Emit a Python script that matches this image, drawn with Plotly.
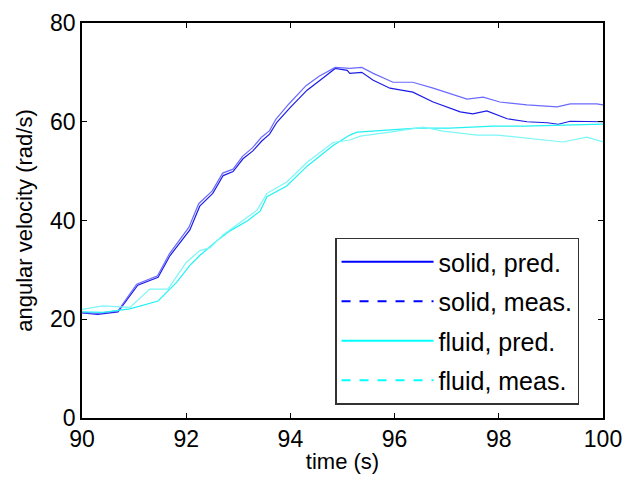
import plotly.graph_objects as go

# solid, predicted
t_sp = [90.0, 90.3, 90.69, 91.07, 91.46, 91.69, 92.07, 92.26, 92.51, 92.71, 92.9, 93.09, 93.28, 93.45, 93.6,
        93.74, 93.99, 94.32, 94.57, 94.86, 95.09, 95.14, 95.37, 95.59, 95.91, 96.35, 96.74, 97.26, 97.5, 97.77,
        98.16, 98.54, 98.93, 99.14, 99.37, 99.62, 100.0]
w_sp = [21.3, 21.0, 21.5, 26.9, 28.5, 32.9, 38.1, 42.9, 45.5, 49.1, 49.9, 52.5, 54.1, 56.1, 57.5,
        59.9, 62.8, 66.4, 68.4, 70.8, 70.4, 69.8, 70.0, 68.4, 66.8, 66.0, 64.0, 62.0, 61.6, 62.2,
        60.6, 60.0, 59.8, 59.5, 60.1, 60.0, 60.0]

# solid, measured
t_sm = [90.0, 90.3, 90.69, 91.05, 91.45, 91.68, 92.05, 92.24, 92.5, 92.7, 92.9, 93.08, 93.27, 93.44, 93.6,
        93.72, 93.97, 94.3, 94.55, 94.86, 95.14, 95.37, 95.59, 95.97, 96.35, 96.74, 97.39, 97.7, 98.02,
        98.54, 99.12, 99.37, 99.88, 100.0]
w_sm = [21.4, 21.2, 21.7, 27.1, 28.8, 33.3, 38.6, 43.4, 46.0, 49.6, 50.4, 53.0, 54.7, 56.8, 58.2,
        60.5, 63.6, 67.3, 69.2, 71.0, 70.8, 71.0, 69.8, 68.0, 68.0, 66.8, 64.6, 65.0, 64.0,
        63.4, 63.0, 63.6, 63.6, 63.4]

# fluid, predicted
t_fp = [90.0, 90.4, 90.92, 91.46, 91.82, 92.07, 92.26, 92.59, 92.84, 93.17, 93.42, 93.55, 93.93, 94.32,
        94.82, 95.14, 95.28, 95.78, 96.43, 97.06, 97.89, 98.5, 99.37, 100.0]
w_fp = [21.5, 21.4, 22.1, 23.7, 27.5, 30.9, 32.9, 35.9, 37.9, 39.9, 41.9, 44.8, 47.0, 51.0,
        55.2, 57.3, 57.9, 58.3, 58.7, 58.7, 59.1, 59.1, 59.3, 59.5]

# fluid, measured
t_fm = [90.0, 90.4, 90.92, 91.3, 91.65, 92.0, 92.26, 92.46, 92.71, 92.97, 93.17, 93.36, 93.55, 93.93,
        94.32, 94.82, 95.14, 95.34, 95.91, 96.55, 96.93, 97.58, 97.97, 98.73, 99.23, 99.69, 100.0]
w_fm = [22.0, 22.7, 22.4, 26.1, 26.1, 31.5, 33.9, 34.5, 37.1, 39.1, 40.5, 42.1, 45.5, 47.8,
        51.8, 55.8, 56.3, 57.1, 57.9, 58.9, 58.1, 57.3, 57.3, 56.5, 55.9, 56.9, 55.9]

names = ["solid, pred.", "solid, meas.", "fluid, pred.", "fluid, meas."]
series = [(t_sp, w_sp), (t_sm, w_sm), (t_fp, w_fp), (t_fm, w_fm)]
colors = ["#1c1ce8", "#6a6aff", "#22f2f2", "#7cf6f6"]
legend_colors = ["#0000ff", "#0000ff", "#00ffff", "#00ffff"]
dashes = ["solid", "dash", "solid", "dash"]

fig = go.Figure()
for i, (t, w) in enumerate(series):
    fig.add_trace(go.Scatter(x=t, y=w, mode='lines', showlegend=False,
                             line=dict(color=colors[i], width=1.2)))
# legend entries
for i in range(4):
    fig.add_trace(go.Scatter(x=[None], y=[None], mode='lines', name=names[i],
                             legendgroup=str(i),
                             line=dict(color=legend_colors[i], width=2, dash=dashes[i])))

ax = dict(showline=True, linecolor='black', linewidth=1.5, mirror='ticks', automargin=False,
          ticks='inside', ticklen=5, tickcolor='black', showgrid=False, zeroline=False,
          ticklabeloverflow='allow', tickfont=dict(size=23, color='black'))

# page body has an 8px margin, so the figure is shrunk by that
fig.update_layout(
    width=629, height=470,
    margin=dict(l=74, r=34, t=15, b=60),
    plot_bgcolor='white', paper_bgcolor='white',
    font=dict(family='Liberation Sans, Arial', size=22, color='black'),
    xaxis=dict(range=[90, 100], tickvals=[90, 92, 94, 96, 98, 100],
               title=dict(text='time (s)', standoff=2, font=dict(size=22)), **ax),
    yaxis=dict(range=[0, 80], tickvals=[0, 20, 40, 60, 80],
               title=dict(text='angular velocity (rad/s)', standoff=11, font=dict(size=22)), **ax),
    legend=dict(x=0.954, xanchor='right', y=0.034, yanchor='bottom', itemwidth=92,
                bgcolor='white', bordercolor='#333333', borderwidth=1.5,
                font=dict(size=25, color='black'), tracegroupgap=4),
)

fig.write_html("out.html")
